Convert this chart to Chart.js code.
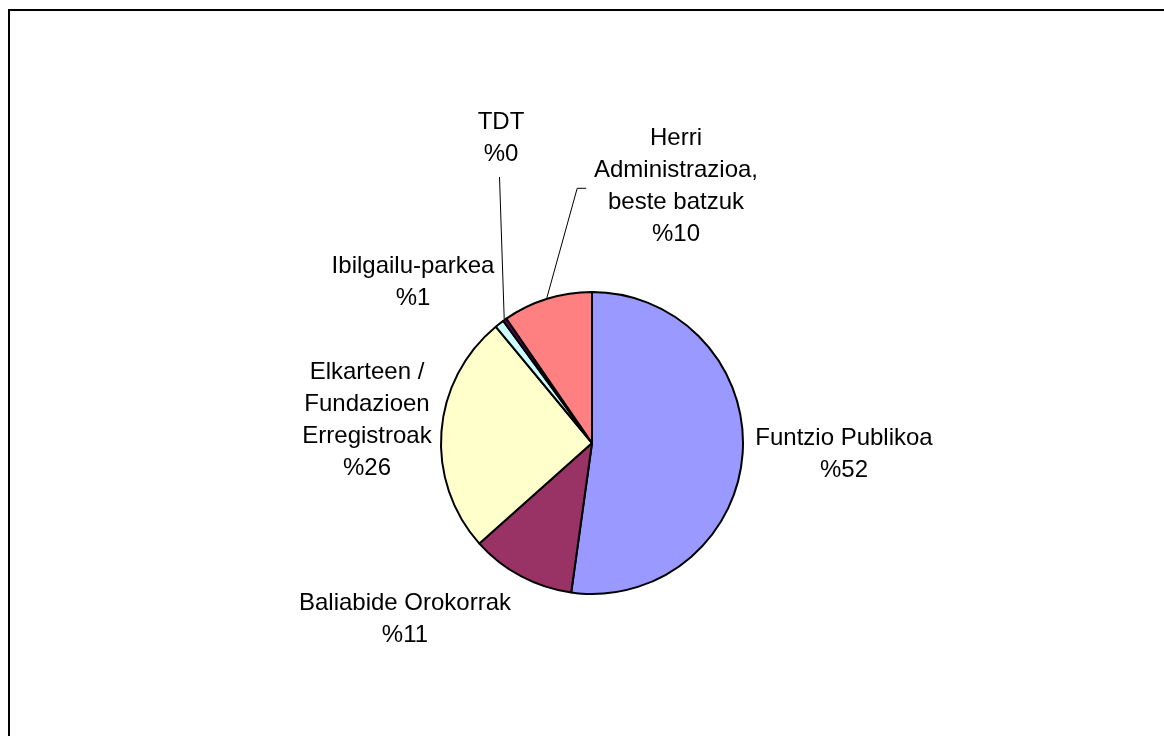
<!DOCTYPE html>
<html>
<head>
<meta charset="utf-8">
<script src="https://cdn.jsdelivr.net/npm/chart.js@4/dist/chart.umd.min.js"></script>
<style>
  html, body { margin: 0; padding: 0; background: #fff; }
  #wrap { position: relative; width: 1164px; height: 736px; }
</style>
</head>
<body>
<div id="wrap"><canvas id="tarta" width="1164" height="736"></canvas></div>
<script>
// datuak
const kategoriak = [
  ['Funtzio Publikoa'],
  ['Baliabide Orokorrak'],
  ['Elkarteen /', 'Fundazioen', 'Erregistroak'],
  ['Ibilgailu-parkea'],
  ['TDT'],
  ['Herri', 'Administrazioa,', 'beste batzuk']
];
const balioak = [52.2, 11.2, 25.6, 1.0, 0.4, 9.6];
const ehunekoEtiketak = ['%52', '%11', '%26', '%1', '%0', '%10'];
const koloreak = ['#9999FF', '#993366', '#FFFFCC', '#CCFFFF', '#660066', '#FF8080'];

// etiketen kokapena, tartaren erdigunearekiko (px)
const etiketaKokapena = [
  [252, -5], [-187, 160], [-225, -71], [-179, -177], [-91, -321], [84, -305]
];
// gida-lerroak (TDT eta Herri Administrazioa)
const gidaLerroak = {
  4: [[-92.5, -266]],
  5: [[-14.8, -254.7], [-5.8, -254.7]]
};

const etiketak = {
  id: 'etiketak',
  afterDraw(chart) {
    const ctx = chart.ctx;
    const arcs = chart.getDatasetMeta(0).data;
    ctx.save();
    // markoa
    ctx.strokeStyle = '#000';
    ctx.lineWidth = 2;
    ctx.beginPath();
    ctx.moveTo(9, 736);
    ctx.lineTo(9, 10);
    ctx.lineTo(1164, 10);
    ctx.stroke();

    ctx.font = '24px "Liberation Sans", Arial, sans-serif';
    ctx.fillStyle = '#000';
    ctx.textAlign = 'center';
    ctx.textBaseline = 'middle';
    arcs.forEach((arc, i) => {
      const cx = arc.x, cy = arc.y;
      const lerroak = kategoriak[i].concat([ehunekoEtiketak[i]]);
      const [dx, dy] = etiketaKokapena[i];
      lerroak.forEach((t, k) => {
        ctx.fillText(t, cx + dx, cy + dy + k * 32);
      });
      if (gidaLerroak[i]) {
        const erdia = (arc.startAngle + arc.endAngle) / 2;
        const r = arc.outerRadius + 1;
        ctx.lineWidth = 1;
        ctx.beginPath();
        ctx.moveTo(cx + Math.cos(erdia) * r, cy + Math.sin(erdia) * r);
        gidaLerroak[i].forEach(p => ctx.lineTo(cx + p[0], cy + p[1]));
        ctx.stroke();
      }
    });
    ctx.restore();
  }
};

const ctx = document.getElementById('tarta').getContext('2d');
const tarta = new Chart(ctx, {
  type: 'pie',
  data: {
    labels: kategoriak.map(l => l.join(' ')),
    datasets: [{
      data: balioak,
      backgroundColor: koloreak,
      borderColor: '#000',
      borderWidth: 2
    }]
  },
  options: {
    responsive: false,
    animation: false,
    layout: {
      padding: { left: 440, right: 420, top: 291, bottom: 141 }
    },
    plugins: {
      legend: { display: false },
      tooltip: { enabled: false }
    }
  },
  plugins: [etiketak]
});
</script>
</body>
</html>
